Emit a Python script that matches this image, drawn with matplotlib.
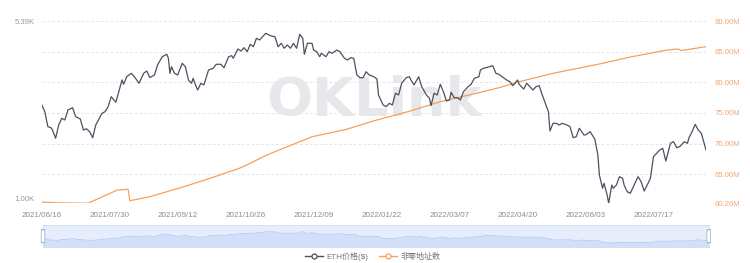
import matplotlib
matplotlib.use("Agg")
import matplotlib.pyplot as plt
from matplotlib.lines import Line2D
from matplotlib.patches import FancyBboxPatch
import numpy as np

plt.rcParams['font.family'] = ['Liberation Sans', 'Noto Sans CJK SC', 'DejaVu Sans']

# ---------------- data (days counted from 2021/06/16) ----------------
tick_days = [0, 44, 88, 132, 176, 220, 264, 308, 352, 396]
tick_labels = ['2021/06/16', '2021/07/30', '2021/09/12', '2021/10/26', '2021/12/09',
               '2022/01/22', '2022/03/07', '2022/04/20', '2022/06/03', '2022/07/17']

eth_days = [0, 2, 4, 6, 7, 9, 11, 13, 15, 17, 20, 22, 25, 27, 29, 31, 33, 35, 39, 41,
            43, 45, 48, 52, 53, 55, 58, 60, 63, 66, 68, 70, 73, 75, 78, 81, 82, 83, 84, 86,
            88, 91, 93, 95, 97, 98, 100, 101, 103, 105, 108, 111, 113, 116, 118, 121, 123, 124, 127, 129,
            131, 133, 135, 137, 139, 141, 143, 145, 148, 151, 153, 155, 157, 159, 161, 163, 165, 167, 169, 170,
            172, 175, 176, 178, 180, 181, 184, 186, 188, 191, 193, 196, 198, 200, 202, 204, 206, 208, 210, 212,
            215, 217, 218, 221, 223, 225, 227, 229, 231, 233, 236, 238, 239, 241, 244, 246, 249, 251, 252, 254,
            256, 258, 260, 262, 264, 265, 267, 269, 271, 273, 276, 278, 280, 283, 284, 286, 290, 292, 294, 296,
            298, 301, 303, 305, 308, 309, 312, 314, 316, 318, 320, 322, 324, 326, 328, 329, 331, 333, 335, 337,
            340, 342, 344, 346, 348, 351, 352, 355, 357, 358, 360, 361, 363, 364, 366, 367, 369, 370, 372, 374,
            376, 377, 379, 381, 384, 386, 388, 390, 393, 394, 396, 398, 400, 402, 404, 407, 409, 411, 413, 416,
            418, 419, 421, 423, 425, 427, 430]
eth_price = [2490, 2330, 2029, 2010, 1967, 1822, 2061, 2193, 2159, 2367, 2418, 2225, 2178, 1967, 1990, 1937, 1832, 2061, 2296, 2330,
             2441, 2677, 2542, 3124, 3003, 3220, 3323, 3220, 3030, 3323, 3394, 3197, 3273, 3589, 3874, 3962, 3817, 3323, 3533, 3323,
             3273, 3646, 3533, 3124, 3030, 3173, 2937, 2848, 3030, 2984, 3426, 3481, 3612, 3612, 3500, 3874, 3911, 3817, 4161, 4084,
             4211, 4058, 4345, 4250, 4593, 4521, 4662, 4811, 4706, 4662, 4250, 4386, 4188, 4318, 4188, 4386, 4188, 4766, 4593, 3962,
             4386, 4386, 4122, 4058, 3874, 3999, 3874, 4058, 3999, 4122, 4058, 3817, 3758, 3839, 3817, 3273, 3191, 3191, 3373, 3273,
             3220, 3152, 2720, 2480, 2441, 2518, 2480, 2763, 2720, 3030, 3191, 3220, 3124, 2984, 3220, 2937, 2720, 2638, 2464, 2763,
             2720, 3003, 2804, 2573, 2597, 2788, 2653, 2653, 2597, 2804, 2937, 3003, 3173, 3220, 3426, 3481, 3533, 3566, 3323, 3293,
             3220, 3124, 3076, 2964, 3124, 3003, 2874, 3030, 2937, 2848, 2937, 2964, 2720, 2518, 2330, 1950, 2093, 2093, 2061, 2093,
             2061, 2029, 1832, 1849, 1999, 1879, 1879, 1937, 1849, 1810, 1561, 1298, 1148, 1202, 1079, 1000, 1183, 1148, 1183, 1278,
             1259, 1183, 1112, 1096, 1202, 1278, 1220, 1119, 1220, 1259, 1537, 1586, 1635, 1661, 1477, 1740, 1766, 1671, 1687, 1766,
             1740, 1832, 1937, 2074, 1967, 1908, 1635]

addr_days = [0, 10, 30, 49, 56, 57, 70, 92, 109, 128, 135, 143, 151, 175, 197, 215, 237, 258, 288, 297,
             309, 331, 360, 382, 405, 412, 414, 430]
addr_millions = [60.45, 60.32, 60.26, 62.41, 62.53, 60.67, 61.32, 62.95, 64.32, 65.96, 66.77, 67.80, 68.67, 71.11, 72.30, 73.70,
                 75.20, 76.83, 78.60, 79.18, 80.09, 81.46, 82.93, 84.17, 85.27, 85.43, 85.18, 85.81]

left_ticks = [1000, 5390]
left_tick_labels = ['1.00K', '5.39K']
right_ticks = [60.26, 65, 70, 75, 80, 85, 90]
right_tick_labels = ['60.26M', '65.00M', '70.00M', '75.00M', '80.00M', '85.00M', '90.00M']

series_names = ['ETH价格($)', '非零地址数']

# ---------------- style ----------------
ETH_C = '#4c5160'
ORG_C = '#f5a05c'
GRID_C = '#e4e6ea'

fig = plt.figure(figsize=(7.5, 2.63), dpi=100)
W, H = 750, 263
x0, x1 = 41.7, 706.0
yt, yb = 21.0, 203.2
ax1 = fig.add_axes([x0 / W, 1 - yb / H, (x1 - x0) / W, (yb - yt) / H])
ax2 = ax1.twinx()
ax2.set_zorder(0)
ax1.set_zorder(1)
ax1.patch.set_visible(False)

# orange series on right axis
ax2.plot(addr_days, addr_millions, color=ORG_C, lw=0.9, zorder=3)
ax2.set_ylim(right_ticks[0], right_ticks[-1])
ax2.set_yticks(right_ticks)
ax2.set_yticklabels(right_tick_labels)
ax2.yaxis.grid(True, color=GRID_C, ls=(0, (3, 2)), lw=0.7)
ax2.tick_params(axis='y', length=0, pad=6, labelsize=5.6, labelcolor='#f2a772')
ax2.text(0.5, 0.56, 'OKLink', transform=ax2.transAxes, ha='center', va='center',
         fontsize=39, fontweight='bold', color='#e7e8eb', family='DejaVu Sans', zorder=0)

# ETH on left log axis
ax1.plot(eth_days, eth_price, color=ETH_C, lw=0.9, zorder=4)
ax1.set_yscale('log')
ax1.set_ylim(left_ticks[0], left_ticks[-1])
ax1.set_yticks(left_ticks)
ax1.set_yticklabels(left_tick_labels)
ax1.yaxis.set_minor_locator(matplotlib.ticker.NullLocator())
ax1.tick_params(axis='y', length=0, pad=5, labelsize=5.6, labelcolor='#9a9a9a')
ax1.get_yticklabels()[0].set_va('bottom')

ax1.set_xlim(0, 430)
ax1.set_xticks(tick_days)
ax1.set_xticklabels(tick_labels)
ax1.tick_params(axis='x', length=0, pad=6, labelsize=5.8, labelcolor='#8c8c8c')

for a in (ax1, ax2):
    for s in a.spines.values():
        s.set_visible(False)

# ---------------- data-zoom slider ----------------
sx0, sx1, sy0, sy1 = 43.0, 708.7, 225.0, 247.3
axs = fig.add_axes([sx0 / W, 1 - sy1 / H, (sx1 - sx0) / W, (sy1 - sy0) / H])
axs.set_facecolor('#e6edfd')
axs.fill_between(eth_days, -400, eth_price, color='#d3def9', lw=0)
axs.plot(eth_days, eth_price, color='#b8caf3', lw=0.6)
axs.set_xlim(0, 430)
axs.set_ylim(-400, 7000)
axs.set_xticks([])
axs.set_yticks([])
for s in axs.spines.values():
    s.set_color('#d5ddf0')
    s.set_linewidth(0.6)
for hx in (0.0, 1.0):
    hw, hh = 3.5 / (sx1 - sx0), 13 / (sy1 - sy0)
    p = FancyBboxPatch((hx - hw / 2, 0.5 - hh / 2), hw, hh,
                       boxstyle='round,pad=0,rounding_size=0.005',
                       transform=axs.transAxes, facecolor='white', edgecolor='#a9b3c8',
                       lw=0.6, clip_on=False, zorder=5)
    axs.add_patch(p)

# ---------------- legend ----------------
handles = [Line2D([], [], color=ETH_C, lw=1.0, marker='o', markersize=3.6,
                  markerfacecolor='white', markeredgecolor=ETH_C, markeredgewidth=0.9),
           Line2D([], [], color=ORG_C, lw=1.0, marker='o', markersize=3.6,
                  markerfacecolor='white', markeredgecolor=ORG_C, markeredgewidth=0.9)]
leg = fig.legend(handles, series_names, loc='center', bbox_to_anchor=(0.497, 0.024), ncol=2,
                 frameon=False, fontsize=5.8, handlelength=2.2, handletextpad=0.4,
                 columnspacing=1.4, labelcolor='#777777')

fig.savefig('out.png', dpi=100)
